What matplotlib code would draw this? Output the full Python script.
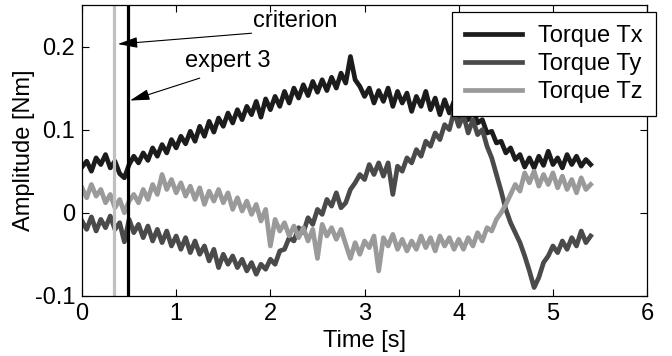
import numpy as np
import matplotlib
matplotlib.use("Agg")
import matplotlib.pyplot as plt

dt = 0.05
torque_tx = [0.055, 0.062, 0.050, 0.066, 0.058, 0.070, 0.054, 0.062, 0.047, 0.042,
             0.058, 0.068, 0.060, 0.072, 0.063, 0.078, 0.068, 0.082, 0.072, 0.088,
             0.078, 0.092, 0.083, 0.098, 0.086, 0.104, 0.092, 0.110, 0.097, 0.114,
             0.104, 0.120, 0.108, 0.124, 0.112, 0.128, 0.118, 0.134, 0.115, 0.137,
             0.124, 0.140, 0.128, 0.146, 0.132, 0.150, 0.138, 0.154, 0.141, 0.158,
             0.145, 0.160, 0.147, 0.163, 0.150, 0.168, 0.156, 0.188, 0.160, 0.152,
             0.140, 0.150, 0.132, 0.147, 0.134, 0.150, 0.128, 0.146, 0.132, 0.144,
             0.122, 0.140, 0.128, 0.146, 0.124, 0.138, 0.118, 0.136, 0.120, 0.134,
             0.114, 0.130, 0.112, 0.126, 0.108, 0.112, 0.096, 0.098, 0.084, 0.086,
             0.072, 0.078, 0.064, 0.070, 0.055, 0.066, 0.054, 0.068, 0.057, 0.074,
             0.058, 0.066, 0.054, 0.070, 0.058, 0.068, 0.056, 0.064, 0.058]
torque_ty = [-0.010, -0.020, -0.005, -0.022, -0.008, -0.018, -0.004, -0.020, -0.012, -0.035,
             -0.008, -0.024, -0.014, -0.030, -0.016, -0.034, -0.020, -0.036, -0.022, -0.040,
             -0.028, -0.044, -0.030, -0.048, -0.034, -0.050, -0.040, -0.058, -0.044, -0.066,
             -0.050, -0.062, -0.052, -0.066, -0.056, -0.070, -0.060, -0.074, -0.062, -0.068,
             -0.056, -0.062, -0.046, -0.044, -0.030, -0.034, -0.018, -0.024, -0.006, -0.014,
             0.004, -0.002, 0.016, 0.008, 0.024, 0.006, 0.012, 0.028, 0.036, 0.046,
             0.040, 0.058, 0.046, 0.060, 0.044, 0.060, 0.022, 0.056, 0.050, 0.066,
             0.060, 0.076, 0.068, 0.086, 0.080, 0.096, 0.088, 0.106, 0.100, 0.122,
             0.104, 0.118, 0.096, 0.112, 0.094, 0.100, 0.080, 0.066, 0.046, 0.026,
             0.004, -0.012, -0.024, -0.036, -0.052, -0.070, -0.090, -0.078, -0.060, -0.052,
             -0.040, -0.048, -0.034, -0.044, -0.030, -0.040, -0.022, -0.036, -0.028]
torque_tz = [0.030, 0.018, 0.034, 0.020, 0.028, 0.012, 0.022, 0.006, 0.016, 0.000,
             0.014, 0.022, 0.012, 0.028, 0.016, 0.034, 0.022, 0.046, 0.028, 0.040,
             0.024, 0.036, 0.020, 0.032, 0.016, 0.030, 0.010, 0.026, 0.014, 0.028,
             0.012, 0.024, 0.004, 0.018, 0.002, 0.014, -0.002, 0.010, -0.010, 0.004,
             -0.040, -0.008, -0.022, -0.012, -0.028, -0.016, -0.030, -0.018, -0.034, -0.020,
             -0.055, -0.014, -0.028, -0.018, -0.032, -0.020, -0.038, -0.055, -0.036, -0.050,
             -0.034, -0.042, -0.028, -0.070, -0.030, -0.040, -0.026, -0.044, -0.032, -0.046,
             -0.034, -0.044, -0.028, -0.042, -0.030, -0.046, -0.028, -0.040, -0.030, -0.044,
             -0.032, -0.044, -0.030, -0.040, -0.024, -0.034, -0.018, -0.022, -0.008, 0.000,
             0.010, 0.022, 0.034, 0.026, 0.048, 0.036, 0.050, 0.032, 0.046, 0.034,
             0.048, 0.030, 0.044, 0.028, 0.040, 0.024, 0.042, 0.028, 0.034]

labels = ["Torque Tx", "Torque Ty", "Torque Tz"]
colors = ["#1c1c1c", "#4a4a4a", "#9a9a9a"]

criterion_t = 0.34
expert_t = 0.49

plt.rcParams['font.family'] = ['Liberation Sans', 'DejaVu Sans']
plt.rcParams['font.size'] = 17

fig = plt.figure(figsize=(6.72, 3.56), dpi=100)
ax = fig.add_axes([0.122, 0.169, 0.841, 0.817])

for sig, lab, col in zip([torque_tx, torque_ty, torque_tz], labels, colors):
    t = np.arange(len(sig)) * dt
    ax.plot(t, sig, color=col, lw=3.4, label=lab, solid_joinstyle='round')

ax.axvline(criterion_t, color="#c0c0c0", lw=2.3)
ax.axvline(expert_t, color="black", lw=2.3)

arrow = dict(arrowstyle='-|>,head_length=0.8,head_width=0.22', mutation_scale=15,
             color='black', lw=0.8, shrinkA=0, shrinkB=0)
ax.annotate('', xy=(0.38, 0.203), xytext=(1.80, 0.216), arrowprops=arrow)
ax.text(1.82, 0.231, "criterion", ha='left', va='center')
ax.annotate('', xy=(0.51, 0.135), xytext=(1.25, 0.162), arrowprops=arrow)
ax.text(1.09, 0.182, "expert 3", ha='left', va='center')

ax.set_xlim(0, 6)
ax.set_ylim(-0.1, 0.25)
ax.set_xticks([0, 1, 2, 3, 4, 5, 6])
ax.set_yticks([-0.1, 0, 0.1, 0.2])
ax.set_yticklabels(["-0.1", "0", "0.1", "0.2"])
ax.tick_params(direction='in', top=True, right=True, length=5, width=0.8, pad=5)
for s in ax.spines.values():
    s.set_linewidth(0.9)

ax.set_xlabel("Time [s]", labelpad=4)
ax.set_ylabel("Amplitude [Nm]", labelpad=0)

leg = fig.legend(loc='upper right', bbox_to_anchor=(656 / 672, 1 - 12 / 356),
                 fancybox=False, framealpha=1, edgecolor='black', fontsize=17,
                 handlelength=2.4, handletextpad=0.7, labelspacing=0.25,
                 borderpad=0.55, borderaxespad=0)
leg.get_frame().set_linewidth(0.9)

fig.savefig("out.png", dpi=100)
